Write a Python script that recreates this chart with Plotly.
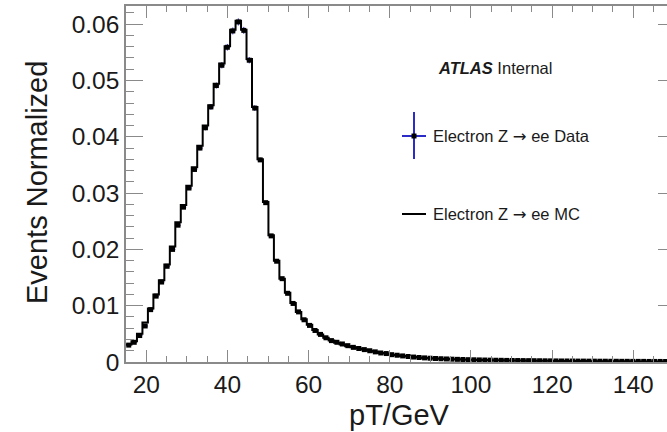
import plotly.graph_objects as go

# ---------------- data ----------------
pt_min = 15.0
bin_width = 1.35
n_bins = 100

data_values = [
    0.0030, 0.0035, 0.0047, 0.0064, 0.0093, 0.0117, 0.0142, 0.0170, 0.0200, 0.0243,
    0.0275, 0.0309, 0.0342, 0.0380, 0.0416, 0.0453, 0.0491, 0.0527, 0.0559, 0.0588,
    0.0604, 0.0589, 0.0536, 0.0451, 0.0359, 0.0283, 0.0224, 0.0179, 0.0148, 0.0122,
    0.0104, 0.0089, 0.0075, 0.0065, 0.0056, 0.0049, 0.0043, 0.0038, 0.0035, 0.0032,
    0.0029, 0.0026, 0.0024, 0.0022, 0.0020, 0.0018, 0.0016, 0.0015, 0.0013, 0.0012,
    0.00108, 0.00098, 0.00088, 0.00080, 0.00073, 0.00067, 0.00062, 0.00058, 0.00054, 0.00050,
    0.00047, 0.00044, 0.00041, 0.00039, 0.00037, 0.00035, 0.00033, 0.00031, 0.00030, 0.00028,
    0.00027, 0.00026, 0.00025, 0.00024, 0.00023, 0.00022, 0.00021, 0.00020, 0.00019, 0.00018,
    0.00018, 0.00017, 0.00016, 0.00016, 0.00015, 0.00015, 0.00014, 0.00014, 0.00013, 0.00013,
    0.00012, 0.00012, 0.00011, 0.00011, 0.00011, 0.00010, 0.00010, 0.00010, 0.00009, 0.00009,
]

mc_values = [
    0.0031, 0.0037, 0.0050, 0.0070, 0.0095, 0.0120, 0.0145, 0.0173, 0.0205, 0.0248,
    0.0279, 0.0313, 0.0346, 0.0384, 0.0420, 0.0456, 0.0494, 0.0530, 0.0561, 0.0590,
    0.0606, 0.0590, 0.0538, 0.0453, 0.0360, 0.0284, 0.0225, 0.0180, 0.0148, 0.0123,
    0.0105, 0.0089, 0.0076, 0.0066, 0.0057, 0.0049, 0.0043, 0.0038, 0.0034, 0.0031,
    0.0028, 0.0026, 0.0024, 0.0022, 0.0020, 0.0018, 0.0016, 0.0015, 0.0013, 0.0012,
    0.00107, 0.00097, 0.00088, 0.00080, 0.00073, 0.00067, 0.00062, 0.00057, 0.00053, 0.00050,
    0.00047, 0.00044, 0.00041, 0.00039, 0.00037, 0.00035, 0.00033, 0.00031, 0.00029, 0.00028,
    0.00027, 0.00026, 0.00025, 0.00024, 0.00023, 0.00022, 0.00021, 0.00020, 0.00019, 0.00018,
    0.00018, 0.00017, 0.00016, 0.00016, 0.00015, 0.00015, 0.00014, 0.00014, 0.00013, 0.00013,
    0.00012, 0.00012, 0.00011, 0.00011, 0.00011, 0.00010, 0.00010, 0.00010, 0.00009, 0.00009,
]

x_ticks = [20, 40, 60, 80, 100, 120, 140]
y_ticks = [0, 0.01, 0.02, 0.03, 0.04, 0.05, 0.06]
y_tick_labels = ["0", "0.01", "0.02", "0.03", "0.04", "0.05", "0.06"]

x_range = [15.0, 148.32]
y_range = [0.0, 0.06323]

# ---------------- derived binning ----------------
centers = [pt_min + bin_width * (i + 0.5) for i in range(n_bins)]
edges = [pt_min + bin_width * i for i in range(n_bins + 1)]
mc_step_y = mc_values + [mc_values[-1]]

FONT = "Liberation Sans, Arial, Helvetica, sans-serif"
TEXT = "#1a1a1a"
BLUE = "#2b2bc8"
AXIS_GREY = "#8a8a8a"

# layout geometry (pixels)
W, H = 667, 432
ML, MR, MT, MB = 126, 0, 6, 70
PW, PH = W - ML - MR, H - MT - MB


def px(xp):
    return (xp - ML) / PW


def py(yp):
    return (H - MB - yp) / PH


fig = go.Figure()

# data error bars (blue) underneath
fig.add_trace(go.Scatter(
    x=centers, y=data_values, mode="markers",
    marker=dict(size=1, color=BLUE, opacity=0),
    error_x=dict(type="constant", value=bin_width / 2, color=BLUE, thickness=1, width=0),
    error_y=dict(type="data", array=[v * 0.01 + 0.00003 for v in data_values],
                 color=BLUE, thickness=1, width=0),
    showlegend=False, hoverinfo="skip",
))

# MC step histogram
fig.add_trace(go.Scatter(
    x=edges, y=mc_step_y, mode="lines",
    line=dict(color="black", width=2, shape="hv"),
    showlegend=False,
))

# data markers
fig.add_trace(go.Scatter(
    x=centers, y=data_values, mode="markers",
    marker=dict(symbol="square", size=5, color="black", line=dict(width=0)),
    showlegend=False,
))

# dummy trace for right axis ticks
fig.add_trace(go.Scatter(x=[None], y=[None], yaxis="y2", showlegend=False))

# ---------------- legend (manual) ----------------
shapes = [
    dict(type="line", xref="paper", yref="paper",
         x0=px(402), x1=px(426), y0=py(136), y1=py(136),
         line=dict(color=BLUE, width=2)),
    dict(type="line", xref="paper", yref="paper",
         x0=px(414), x1=px(414), y0=py(112), y1=py(159),
         line=dict(color=BLUE, width=2)),
    dict(type="rect", xref="paper", yref="paper",
         x0=px(411.5), x1=px(416.5), y0=py(133.5), y1=py(138.5),
         fillcolor="black", line=dict(width=0)),
    dict(type="line", xref="paper", yref="paper",
         x0=px(402), x1=px(426), y0=py(214), y1=py(214),
         line=dict(color="black", width=2)),
]

ARROW = '<span style="font-family:DejaVu Sans">\u2192</span>'

annotations = [
    dict(text="<b><i>ATLAS</i></b> Internal", xref="paper", yref="paper",
         x=px(436), y=py(68), xanchor="left", yanchor="middle", showarrow=False,
         font=dict(family=FONT, size=16.5, color=TEXT)),
    dict(text="Electron Z " + ARROW + " ee Data", xref="paper", yref="paper",
         x=px(431), y=py(136), xanchor="left", yanchor="middle", showarrow=False,
         font=dict(family=FONT, size=16.5, color=TEXT)),
    dict(text="Electron Z " + ARROW + " ee MC", xref="paper", yref="paper",
         x=px(431), y=py(214), xanchor="left", yanchor="middle", showarrow=False,
         font=dict(family=FONT, size=16.5, color=TEXT)),
    dict(text="Events Normalized", xref="paper", yref="paper",
         x=px(37), y=py(183), xanchor="center", yanchor="middle", showarrow=False,
         textangle=-90, font=dict(family=FONT, size=29, color=TEXT)),
    dict(text="pT/GeV", xref="paper", yref="paper",
         x=px(399), y=py(415), xanchor="center", yanchor="middle", showarrow=False,
         font=dict(family=FONT, size=29, color=TEXT)),
]

fig.update_layout(
    width=W, height=H,
    margin=dict(l=ML, r=MR, t=MT, b=MB, pad=0),
    paper_bgcolor="white", plot_bgcolor="white",
    font=dict(family=FONT, color=TEXT),
    shapes=shapes, annotations=annotations,
    showlegend=False,
    xaxis=dict(
        range=x_range, tickmode="array", tickvals=x_ticks,
        ticks="inside", ticklen=12, tickwidth=1.2, tickcolor=AXIS_GREY,
        minor=dict(dtick=5, tick0=0, ticks="inside", ticklen=6, tickwidth=1.2, tickcolor=AXIS_GREY),
        showline=True, linecolor=AXIS_GREY, linewidth=1.5, mirror="ticks",
        showgrid=False, zeroline=False,
        tickfont=dict(family=FONT, size=24.5, color=TEXT),
    ),
    yaxis=dict(
        range=y_range, tickmode="array", tickvals=y_ticks, ticktext=y_tick_labels,
        ticks="inside", ticklen=17, tickwidth=1.2, tickcolor=AXIS_GREY,
        minor=dict(dtick=0.002, tick0=0, ticks="inside", ticklen=8, tickwidth=1.2, tickcolor=AXIS_GREY),
        showline=True, linecolor=AXIS_GREY, linewidth=1.5, mirror=False,
        showgrid=False, zeroline=False,
        tickfont=dict(family=FONT, size=24.5, color=TEXT),
    ),
    yaxis2=dict(
        range=y_range, overlaying="y", side="right", tickmode="array", tickvals=y_ticks,
        ticks="inside", ticklen=9, tickwidth=1.2, tickcolor=AXIS_GREY,
        showticklabels=False, showline=False, showgrid=False, zeroline=False,
    ),
)

fig.write_html("out.html")
